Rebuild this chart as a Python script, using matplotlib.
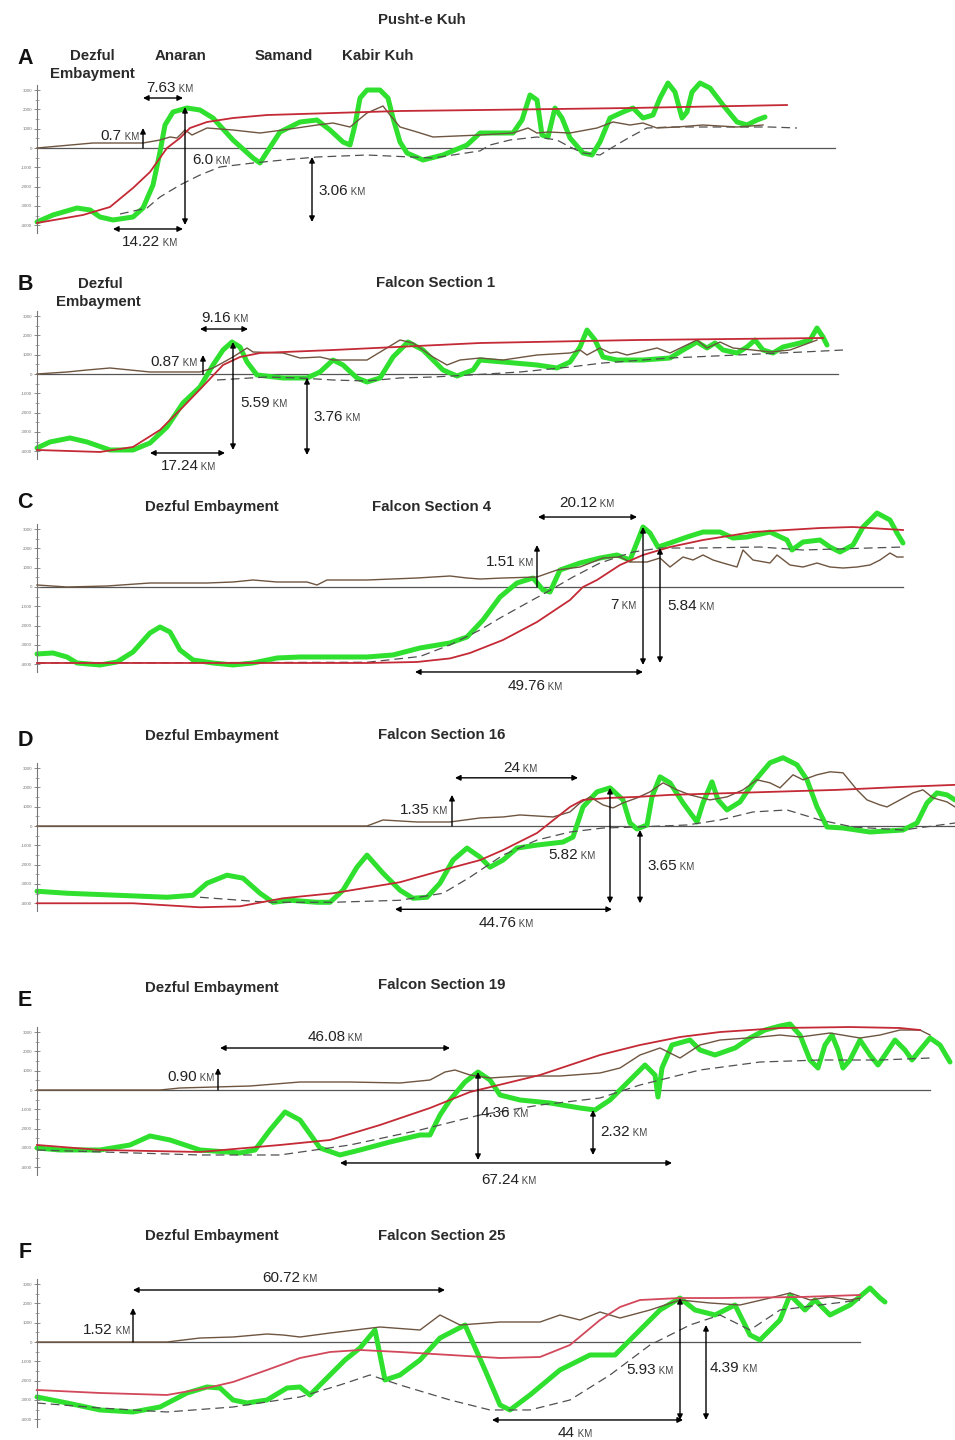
import matplotlib
matplotlib.use('Agg')
import matplotlib.pyplot as plt
from matplotlib.offsetbox import TextArea, HPacker, AnnotationBbox

plt.rcParams['font.family'] = ['Liberation Sans', 'DejaVu Sans']

# ---------------- DATA (distance in km, elevation in m) ----------------
# Panel A
a_green_km = [0,3.2,8,10.6,12.6,15.2,19.2,21.2,23.2,24.6,25.6,27.2,30,32.6,35.2,39.2,43.2,44.6,46,48.6,
              52.6,56,58.6,61.2,62.6,63.6,64.6,66,68.6,70.2,71.2,72.6,74,77.2,81.2,86,88.6,95.2,97,98.6,
              100,101,102.2,103.6,105,106.6,109.2,111,112.6,114.6,117.2,119.2,121.2,123.2,124.6,126.2,127.6,129,130,131,
              132.6,134.6,137.2,140,142,144,145.6]
a_green_m = [-3830,-3470,-3110,-3210,-3575,-3730,-3575,-3110,-1917,-207,1191,1865,2072,1968,1554,414,-518,-777,-207,829,
             1347,1450,932,311,155,1191,2590,3004,3004,2590,1554,311,-259,-622,-363,155,777,777,1450,2745,
             2486,673,570,2072,1554,518,-259,-363,311,1554,1865,2072,1554,1709,2590,3367,2900,1554,1865,2900,
             3367,3108,2227,1347,1191,1450,1606]
a_red_km = [0,9.2,14.6,19.2,22.6,26,28.6,30.6,34,39.2,46,59.2,72.6,88.6,118.6,150]
a_red_m = [-3885,-3470,-3056,-2072,-1243,0,518,1036,1347,1554,1709,1813,1917,1968,2072,2227]
a_brown_km = [0,11.2,21.2,24.6,26.6,28,29.6,31,34,39.2,44.6,49.2,56,59.2,62.6,66,69.2,70.6,72.6,76,
              79.2,88.6,95.2,98.2,100,102.2,106.6,112,115.2,118.6,121.2,124,128,133.2,140,145.2]
a_brown_m = [0,259,259,414,570,518,932,673,1036,932,777,932,1191,1295,1088,1813,2176,1709,1088,829,
             570,673,777,1036,777,829,777,1036,1347,1191,1295,1036,1088,1191,1088,1191]
a_dash_km = [16.6,22,24.6,28.6,32.6,36.6,43.2,49.2,56,66,79.2,88.6,90.6,94.6,100,104,106.6,109.2,112.6,115.2,
             118.6,122,126.6,136.6,146.6,152]
a_dash_m = [-3420,-3108,-2538,-1917,-1399,-984,-777,-622,-466,-363,-518,-150,155,414,570,414,52,-259,-363,52,
            570,1036,1088,1088,1088,1036]

# Panel B
b_green_km = [0,2.6,6.6,10,14.6,19.2,22.6,26,29.2,32.6,35.2,37.2,39,40.6,42,44,49.2,54,56.6,59.2,
              61.2,64,66,68.6,71.2,74.2,77.2,81.2,84,87.2,88.6,93.2,100,104,106.6,108.6,110,111.6,113.2,116,
              121.2,126.6,129.2,132,134,135.6,137.2,140,142,143.6,145.2,147.2,149.2,152.6,154.6,156,157.2,158]
b_green_m = [-3833,-3522,-3315,-3522,-3937,-3937,-3574,-2745,-1502,-673,466,1243,1658,1399,622,-52,-207,-207,104,725,
             466,-207,-414,-207,881,1658,1243,207,-104,207,725,622,466,311,622,1399,2279,1761,881,725,
             725,829,1243,1658,1347,1606,1243,1088,1399,1761,1243,1088,1399,1606,1761,2383,1917,1502]
b_red_km = [0,12.6,19.2,24.6,29.2,34,37.2,40.6,44.6,59.2,88.6,120,157.2]
b_red_m = [-3937,-4040,-3780,-2900,-1709,-414,466,881,1088,1243,1606,1761,1865]
b_brown_km = [0,6,10,14.6,22.6,32.6,35.2,39.2,42,43.2,49.2,52.6,56.6,59.2,66,72.6,75.2,79.2,82,84.6,
              88.6,93.2,100,106.6,108.6,110,112.6,114.6,116,118,124,126.6,132,134,136.6,139.2,143.2,146.6,150.6,156]
b_brown_m = [0,104,207,311,104,104,311,881,1347,1140,1088,829,881,725,725,1761,1606,881,466,725,
             829,725,984,1088,1243,984,1347,1088,1140,984,1347,1088,1761,1347,1658,1347,1243,1140,1243,1761]
b_dash_km = [36,46,52.6,59.2,66,72.6,79.2,86.6,96.6,106.6,113.2,126.6,140,153.2,161.2]
b_dash_m = [-311,-155,-207,-311,-363,-207,-155,-52,104,363,570,829,984,1140,1243]

# Panel C
c_green_km = [0,3.2,6,8,12.6,16,19.2,22.6,24.6,26.6,28.6,31.2,35.2,39.2,43.2,48,52.6,59.2,66,71.2,
              76.6,82.6,86,89.2,92.6,96,99.2,101.2,102.6,104.6,108.6,112.6,116,118.6,120.2,121.2,122.6,124.2,126.6,130,
              133.2,136.6,139.2,142,146.6,150,151,153.2,156.6,158.6,160.6,163.2,165.2,168,170.6,172,173.2]
c_green_m = [-3470,-3419,-3626,-3937,-4040,-3885,-3367,-2383,-2072,-2331,-3263,-3781,-3937,-4040,-3937,-3678,-3626,-3626,-3626,-3522,
             -3160,-2900,-2590,-1709,-518,207,466,-155,-259,881,1243,1502,1658,1399,2435,3108,2797,2072,2279,2590,
             2849,2849,2538,2590,2849,2435,1917,2331,2435,2072,1813,2176,3108,3833,3471,2797,2279]
c_red_km = [0,19.2,46,66,76,82.6,86.6,93.2,100,106.6,109.2,112,116.6,121.2,126.6,133.2,143.2,156.6,163.2,173.2]
c_red_m = [-3937,-3937,-3937,-3937,-3885,-3700,-3419,-2745,-1813,-673,0,363,1140,1658,2072,2435,2849,3056,3108,2953]
c_brown_km = [0,6,14,22.6,34,39.2,43.2,48,54,56,58,66,76,82.6,86,88.6,93.2,100,104,108.6,
              113.2,116.6,118.6,122,124.6,126.6,129.2,131.2,133.2,135.2,137.2,140,141.2,143.2,146.6,148,150.6,153.2,156,158.6,
              161.2,164,166.6,168.6,170.6,172,173.2]
c_brown_m = [104,0,52,207,207,259,363,259,259,104,363,363,466,570,466,414,466,518,881,1036,
             1502,1554,1295,1295,1502,1036,1554,1399,1658,1399,1243,1036,1917,1399,1243,1658,1140,1036,1243,1036,
             984,1036,1140,1399,1761,1554,1554]
c_dash_km = [0,66,76.6,82.6,88.6,92.6,98,102,107.2,112.6,119.2,124.6,132.6,144.6,153.2,173.2]
c_dash_m = [-3937,-3900,-3600,-3000,-2227,-1606,-829,-259,518,1243,1813,2020,2020,2072,1917,2072]

# Panel D
d_green_km = [0,6,16,26,31.2,34,38,41.2,44.6,47.2,50.6,56,58.6,61.2,64,66,69.2,72.6,75.2,78,
              80.6,83.2,86,88.6,90.6,93.2,96,100,105.2,107.2,109.2,112,114.6,117.2,118.6,120,122,123,124.6,126.6,
              129.2,132,133.2,135,136.2,138,140.6,143.2,146.6,149.2,152,154,156,158,161.2,166.6,173.2,176,178,180,
              182,183.6]
d_green_m = [-3380,-3484,-3588,-3692,-3588,-2964,-2548,-2704,-3484,-3952,-3848,-3952,-3952,-3328,-2132,-1508,-2444,-3328,-3744,-3692,
             -2964,-1768,-1144,-1612,-2132,-1768,-1144,-988,-832,-572,988,1768,1976,1352,156,-156,52,1508,2548,2236,
             1196,208,1196,2288,1352,832,1248,2236,3276,3536,3172,2392,988,-52,-104,-312,-208,156,1196,1716,
             1612,1352]
d_red_km = [0,19.2,32.6,40.6,49.2,59.2,72.6,82.6,88.6,93.2,100,106.6,109.2,114.6,120,126.6,140,160,173.2,183.6]
d_red_m = [-4004,-4004,-4212,-4160,-3744,-3484,-2912,-2184,-1768,-1248,-364,988,1352,1456,1508,1612,1716,1872,2028,2132]
d_brown_km = [0,66,69.2,76,82.6,88.6,93.2,96.6,103.2,106.6,108.6,110.6,113.2,115.2,117.2,120,122.6,125.2,128,130.6,
              134.6,138,141.2,144,146.6,148.6,151.2,153.2,156,158.6,161.2,164,166,168.6,170,172.6,175.2,177.2,179.2,182,
              183.6]
d_brown_m = [0,0,312,208,208,416,468,572,468,728,1196,1508,1092,936,1196,1456,1768,2236,1872,1612,
             1352,1508,1872,2392,2236,1976,2652,2392,2652,2808,2756,1872,1352,1092,988,1352,1716,1872,1456,1248,
             988]
d_dash_km = [32.6,46,59.2,72.6,81.2,86.6,93.2,100,106.6,113.2,120,130,136.6,143.2,150,156.6,163.2,173.2,183.6]
d_dash_m = [-3692,-3952,-3952,-3848,-3484,-2652,-1508,-728,-312,-104,-52,52,312,728,832,312,-52,-208,156]

# Panel E
e_green_km = [0,4.6,12.6,18.6,22.6,26.6,32.6,40.6,43.6,46.6,49.6,52.6,56.6,60.6,64.6,70.6,76.6,78.6,80.6,82.6,
              85.6,88.2,90.6,92.6,96.6,102.6,108.6,111.6,114.6,118.6,121.6,123.6,124.2,125,127,130.6,132.6,135.6,139.6,142.6,
              145.6,148.6,150.6,152.6,154.6,156.2,157.6,159,160.2,161.2,162.6,164.6,166.6,168.2,169.6,171.6,173.6,175,176.6,178.6,
              180.6,182.6]
e_green_m = [-3004,-3108,-3108,-2849,-2383,-2590,-3108,-3263,-3108,-2072,-1140,-1554,-3004,-3367,-3108,-2694,-2331,-2331,-1295,-518,
             414,932,518,-259,-518,-673,-932,-1036,-518,518,1295,777,-363,1140,2331,2590,2072,1813,2176,2694,
             3108,3315,3419,2849,1554,1140,2331,2849,2072,1140,1554,2590,1813,1295,1813,2590,2072,1554,2072,2694,
             2331,1450]
e_red_km = [0,12.6,32.6,48.6,58.6,68.6,78.6,86.6,100.6,112.6,120.6,128.6,136.6,148.6,162.6,172.6,176.6]
e_red_m = [-2849,-3108,-3212,-2849,-2590,-1813,-932,-104,777,1813,2331,2745,3004,3212,3263,3212,3108]
e_brown_km = [0,24.6,28.6,42.6,52.6,62.6,72.6,78.6,81.6,83.6,86.6,90.6,96.6,104.6,112.6,116.6,120.6,124.6,128.6,132.6,
              136.6,144.6,148.6,152.6,158.6,164.6,168.6,172.6,176.6,178.6]
e_brown_m = [0,0,104,207,414,414,363,518,932,1036,777,622,725,725,881,1140,1813,2176,1658,2331,
             2590,2745,2849,2745,2953,2694,2849,3108,3108,2849]
e_dash_km = [0,32.6,48.6,62.6,76.6,88.6,100.6,112.6,120.6,132.6,144.6,156.6,168.6,178.6]
e_dash_m = [-3108,-3367,-3367,-2849,-2072,-1295,-777,-414,259,1036,1450,1554,1554,1658]

# Panel F
f_green_km = [0,6,12.6,19.2,24.6,30,34,36.6,39.2,42,46,50,52.6,54.6,57.6,61.6,64.6,67.6,69.6,72.6,
              76.6,80.6,85.6,89.6,92.6,94.6,98.6,104.6,110.6,115.6,120.6,124.6,128.6,131.6,135.6,139.6,142.6,144.6,148.6,150.6,
              153.6,155.6,158.6,162.6,166.6,168.6,169.6]
f_green_m = [-2849,-3160,-3522,-3626,-3367,-2642,-2331,-2383,-3004,-3160,-3004,-2383,-2331,-2745,-1968,-932,-311,622,-1968,-1709,
             -932,207,881,-1450,-3263,-3522,-2745,-1450,-673,-673,622,1658,2279,1658,1399,1917,363,104,1140,2435,
             1658,2176,1399,1917,2797,2279,2072]
f_red_km = [0,12.6,26,34,39.2,46,52.6,58.6,64.6,72.6,82.6,92.6,100.6,106.6,112.6,116.6,120.6,128.6,136.6,152.6,164.6]
f_red_m = [-2486,-2642,-2745,-2383,-2072,-1450,-829,-518,-414,-518,-673,-829,-777,-155,1140,1813,2176,2279,2279,2331,2435]
f_brown_km = [0,26,32.6,39.2,46,49.2,52.6,58.6,68.6,76.6,80.6,84.6,92.6,100.6,104.6,108.6,112.6,116.6,122.6,128.6,
              134.6,140.6,146.6,150.6,154.6,158.6,162.6,164.6]
f_brown_m = [0,0,207,259,414,363,259,466,777,622,1399,881,1036,1036,1399,1140,1554,1243,1658,2176,
             2020,1917,2279,2538,2176,2331,2176,2279]
f_dash_km = [0,12.6,26,39.2,52.6,60.6,66.6,72.6,82.6,90.6,98.6,106.6,114.6,122.6,130.6,136.6,142.6,148.6,156.6,164.6]
f_dash_m = [-3160,-3419,-3626,-3367,-2849,-2227,-1709,-2227,-3004,-3522,-3522,-3004,-1709,-155,881,1399,622,1658,1917,2176]

# section lengths of the zero (sea-level) line, km
zero_end_km = [159.6, 160.2, 173.2, 183.6, 178.6, 164.6]
panel_letters = ['A', 'B', 'C', 'D', 'E', 'F']
tick_vals = [-4000, -3000, -2000, -1000, 0, 1000, 2000, 3000]

# ---------------- LAYOUT ----------------
W, H = 955, 1440
fig = plt.figure(figsize=(W / 100, H / 100), dpi=100)
ZERO_PX = [148, 374, 587, 826, 1090, 1342]
PX_PER_M = 19.3 / 1000.0
PX_PER_KM = 5.0
X0 = 37
YLO, YHI = -4500, 3500

GREEN = '#2fe02f'
RED = ['#c42a35', '#c42a35', '#c42a35', '#c42a35', '#c42a35', '#d2485a']
BROWN = '#6e5540'
DASH = '#505050'
TXT = '#222222'


def ftext(x, y, s, size=10.8, ha='center', weight='bold', color='#2a2a2a'):
    fig.text(x / W, 1 - y / H, s, fontsize=size, ha=ha, va='center',
             fontweight=weight, color=color)


def make_ax(zpx):
    top = zpx - YHI * PX_PER_M
    bot = zpx - YLO * PX_PER_M
    ax = fig.add_axes([X0 / W, 1 - bot / H, (W - X0) / W, (bot - top) / H])
    ax.set_xlim(0, (W - X0) / PX_PER_KM)
    ax.set_ylim(YLO, YHI)
    ax.patch.set_alpha(0)
    for s in ['top', 'right', 'bottom']:
        ax.spines[s].set_visible(False)
    ax.spines['left'].set_bounds(-4400, 3250)
    ax.spines['left'].set_color('#777777')
    ax.spines['left'].set_linewidth(0.8)
    ax.set_xticks([])
    ax.set_yticks(tick_vals)
    ax.set_yticklabels([str(v) for v in tick_vals])
    ax.set_yticks(range(-4000, 3001, 500), minor=True)
    ax.tick_params(axis='y', which='major', direction='inout', length=5, width=0.6,
                   colors='#777777', labelsize=3.2, pad=1)
    ax.tick_params(axis='y', which='minor', direction='inout', length=3, width=0.5,
                   colors='#888888')
    return ax


def draw_series(ax, i, green, red, brown, dash):
    ax.plot([0, zero_end_km[i]], [0, 0], color='#555555', lw=0.9, zorder=1, clip_on=False)
    ax.plot(*green, color=GREEN, lw=3.6, zorder=2, clip_on=False,
            solid_joinstyle='round', solid_capstyle='round')
    ax.plot(*dash, color=DASH, lw=0.9, dashes=(7, 4), zorder=3, clip_on=False)
    ax.plot(*brown, color=BROWN, lw=1.0, zorder=4, clip_on=False)
    ax.plot(*red, color=RED[i], lw=1.3, zorder=5, clip_on=False)


def km_label(ax, x, y, num, ha='left'):
    t1 = TextArea(num, textprops=dict(fontsize=11, color=TXT))
    t2 = TextArea(' KM', textprops=dict(fontsize=7, color='#444444'))
    box = HPacker(children=[t1, t2], align='baseline', pad=0, sep=0)
    bx = {'left': 0.0, 'right': 1.0, 'center': 0.5}[ha]
    ab = AnnotationBbox(box, (x, y), xycoords='data', frameon=False,
                        box_alignment=(bx, 0.5), pad=0, annotation_clip=False, zorder=8)
    ax.add_artist(ab)


AP = dict(color='black', lw=1.0, mutation_scale=8, shrinkA=0, shrinkB=0)


def dbl(ax, x0, y0, x1, y1):
    ax.annotate('', xy=(x1, y1), xytext=(x0, y0),
                arrowprops=dict(arrowstyle='<|-|>', **AP), annotation_clip=False, zorder=7)


def up(ax, x, ytop):
    ax.annotate('', xy=(x, ytop), xytext=(x, 0),
                arrowprops=dict(arrowstyle='-|>', **AP), annotation_clip=False, zorder=7)


series = [
    ((a_green_km, a_green_m), (a_red_km, a_red_m), (a_brown_km, a_brown_m), (a_dash_km, a_dash_m)),
    ((b_green_km, b_green_m), (b_red_km, b_red_m), (b_brown_km, b_brown_m), (b_dash_km, b_dash_m)),
    ((c_green_km, c_green_m), (c_red_km, c_red_m), (c_brown_km, c_brown_m), (c_dash_km, c_dash_m)),
    ((d_green_km, d_green_m), (d_red_km, d_red_m), (d_brown_km, d_brown_m), (d_dash_km, d_dash_m)),
    ((e_green_km, e_green_m), (e_red_km, e_red_m), (e_brown_km, e_brown_m), (e_dash_km, e_dash_m)),
    ((f_green_km, f_green_m), (f_red_km, f_red_m), (f_brown_km, f_brown_m), (f_dash_km, f_dash_m)),
]

axes = []
for i, z in enumerate(ZERO_PX):
    ax = make_ax(z)
    draw_series(ax, i, *series[i])
    axes.append(ax)

# ---------------- HEADERS ----------------
ftext(422, 20, 'Pusht-e Kuh')
letter_y = [58, 284, 502, 741, 1000, 1252]
for L, y in zip(panel_letters, letter_y):
    ftext(25, y, L, size=15.5, weight='bold', color='#111111')
ftext(92, 56, 'Dezful'); ftext(92, 74, 'Embayment')
ftext(180, 56, 'Anaran'); ftext(284, 56, 'Samand'); ftext(378, 56, 'Kabir Kuh')
ftext(100, 284, 'Dezful'); ftext(98, 302, 'Embayment')
ftext(436, 283, 'Falcon Section 1')
ftext(212, 507, 'Dezful Embayment'); ftext(432, 507, 'Falcon Section 4')
ftext(212, 736, 'Dezful Embayment'); ftext(442, 735, 'Falcon Section 16')
ftext(212, 988, 'Dezful Embayment'); ftext(442, 985, 'Falcon Section 19')
ftext(212, 1236, 'Dezful Embayment'); ftext(442, 1236, 'Falcon Section 25')

# ---------------- MEASUREMENT ANNOTATIONS ----------------
ax = axes[0]
dbl(ax, 21.2, 2590, 29.2, 2590); km_label(ax, 26.6, 3110, '7.63', 'center')
up(ax, 21.2, 1036); km_label(ax, 20.4, 622, '0.7', 'right')
dbl(ax, 29.6, 2124, 29.6, -3989); km_label(ax, 31, -622, '6.0')
dbl(ax, 15.2, -4196, 29.2, -4196); km_label(ax, 22.6, -4869, '14.22', 'center')
dbl(ax, 55, -466, 55, -3833); km_label(ax, 56.2, -2227, '3.06')

ax = axes[1]
dbl(ax, 32.6, 2331, 42.2, 2331); km_label(ax, 37.6, 2900, '9.16', 'center')
up(ax, 33.2, 984); km_label(ax, 32, 622, '0.87', 'right')
dbl(ax, 39.2, 1658, 39.2, -3937); km_label(ax, 40.6, -1502, '5.59')
dbl(ax, 54, -207, 54, -4196); km_label(ax, 55.2, -2227, '3.76')
dbl(ax, 22.6, -4092, 37.6, -4092); km_label(ax, 30.2, -4766, '17.24', 'center')

ax = axes[2]
dbl(ax, 100.2, 3626, 120, 3626); km_label(ax, 110, 4351, '20.12', 'center')
up(ax, 100, 2176); km_label(ax, 99.2, 1295, '1.51', 'right')
dbl(ax, 121.2, 3108, 121.2, -4040)
dbl(ax, 124.6, 2020, 124.6, -3937)
km_label(ax, 119.8, -932, '7', 'right'); km_label(ax, 126, -984, '5.84')
dbl(ax, 75.6, -4403, 121.2, -4403); km_label(ax, 99.6, -5128, '49.76', 'center')

ax = axes[3]
dbl(ax, 83.6, 2496, 108.2, 2496); km_label(ax, 96.6, 3016, '24', 'center')
up(ax, 83, 1612); km_label(ax, 82, 832, '1.35', 'right')
dbl(ax, 114.6, 1976, 114.6, -4004); km_label(ax, 102.2, -1508, '5.82')
dbl(ax, 120.6, -208, 120.6, -4004); km_label(ax, 122, -2080, '3.65')
dbl(ax, 71.6, -4316, 115, -4316); km_label(ax, 93.8, -5044, '44.76', 'center')

ax = axes[4]
dbl(ax, 36.6, 2176, 82.6, 2176); km_label(ax, 59.6, 2745, '46.08', 'center')
up(ax, 36.2, 1140); km_label(ax, 35.4, 673, '0.90', 'right')
dbl(ax, 88.2, 932, 88.2, -3626); km_label(ax, 88.8, -1191, '4.36')
dbl(ax, 111.2, -1036, 111.2, -3367); km_label(ax, 112.6, -2176, '2.32')
dbl(ax, 60.6, -3781, 127, -3781); km_label(ax, 94.4, -4662, '67.24', 'center')

ax = axes[5]
dbl(ax, 19.2, 2694, 81.6, 2694); km_label(ax, 50.6, 3315, '60.72', 'center')
up(ax, 19.2, 1761); km_label(ax, 18.6, 622, '1.52', 'right')
dbl(ax, 128.6, 2279, 128.6, -4040); km_label(ax, 127.2, -1450, '5.93', 'right')
dbl(ax, 133.8, 881, 133.8, -4040); km_label(ax, 134.6, -1347, '4.39')
dbl(ax, 91, -4040, 129.2, -4040); km_label(ax, 107.6, -4714, '44', 'center')

fig.savefig('out.png', dpi=100, facecolor='white')
